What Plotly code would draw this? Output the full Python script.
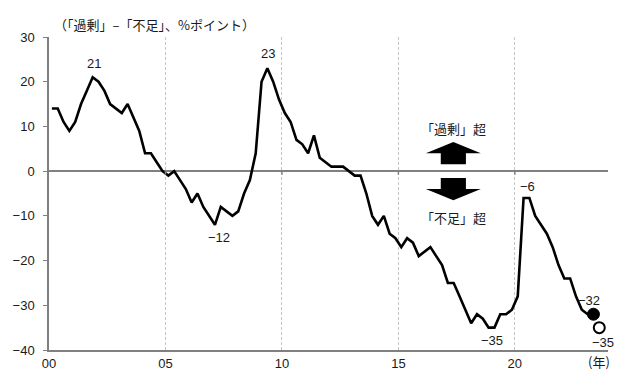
import plotly.graph_objects as go

# ---- data (quarterly, 2000Q1 onward) ----
start_year = 2000
di_values = [14, 14, 11, 9, 11, 15, 18, 21, 20, 18, 15, 14, 13, 15, 12, 9, 4, 4, 2, 0,
             -1, 0, -2, -4, -7, -5, -8, -10, -12, -8, -9, -10, -9, -5, -2, 4, 20, 23, 20, 16,
             13, 11, 7, 6, 4, 8, 3, 2, 1, 1, 1, 0, -1, -1, -5, -10, -12, -10, -14, -15,
             -17, -15, -16, -19, -18, -17, -19, -21, -25, -25, -28, -31, -34, -32, -33, -35, -35, -32, -32, -31,
             -28, -6, -6, -10, -12, -14, -17, -21, -24, -24, -28, -31, -32, -32]
forecast_value = -35
year_ticks = [2000, 2005, 2010, 2015, 2020]
year_labels = ["00", "05", "10", "15", "20"]
y_ticks = [30, 20, 10, 0, -10, -20, -30, -40]
# labelled points: (index, text, xshift, yshift)
label_points = [(7, "21", 1, 14), (37, "23", 1, 15), (28, "−12", 4, -13),
                (75, "−35", 3, -13), (81, "−6", 4, 11), (93, "−32", -4, 14)]

def qx(i):
    return start_year + (i + 0.5) / 4

xs = [qx(i) for i in range(len(di_values))]
last_i = len(di_values) - 1
fc_x = qx(last_i + 1)

NUM_FONT = dict(family="Arial, Liberation Sans", size=13, color="#1a1a1a")
JP_FONT = dict(family="Noto Sans CJK JP", size=13, color="#1a1a1a")
AX = "#808080"

fig = go.Figure()
fig.add_trace(go.Scatter(x=xs, y=di_values, mode="lines",
                         line=dict(color="black", width=2.6), hoverinfo="skip"))
fig.add_trace(go.Scatter(x=[xs[last_i]], y=[di_values[last_i]], mode="markers",
                         marker=dict(size=12, color="black", line=dict(color="black", width=1))))
fig.add_trace(go.Scatter(x=[fc_x], y=[forecast_value], mode="markers",
                         marker=dict(size=11, color="white", line=dict(color="black", width=2))))

annotations = []
for i, t, dx, dy in label_points:
    annotations.append(dict(x=xs[i], y=di_values[i], text=t, showarrow=False,
                            xshift=dx, yshift=dy, font=NUM_FONT))
annotations.append(dict(x=fc_x, y=forecast_value, text="−35", showarrow=False,
                        xshift=4, yshift=-15, font=NUM_FONT))
annotations.append(dict(xref="paper", yref="paper", x=0.005, y=1.0415, xanchor="left",
                        yanchor="middle", text="（「過剰」–「不足」、%ポイント）",
                        showarrow=False, font=JP_FONT))
annotations.append(dict(xref="paper", yref="paper", x=1, y=-0.036, xanchor="right",
                        yanchor="middle", xshift=4, text="(年)", showarrow=False, font=JP_FONT))

arrow_cx = 2017.36
annotations.append(dict(x=arrow_cx, y=9.6, text="「過剰」超", showarrow=False, font=JP_FONT))
annotations.append(dict(x=arrow_cx, y=-10.3, text="「不足」超", showarrow=False, font=JP_FONT))

head_half, shaft_half = 1.18, 0.54
tip, base, shaft_end = 6.5, 4.0, 1.55
shapes = []
for s in (1, -1):
    path = (f"M {arrow_cx - head_half},{s * base} L {arrow_cx},{s * tip} "
            f"L {arrow_cx + head_half},{s * base} L {arrow_cx + shaft_half},{s * base} "
            f"L {arrow_cx + shaft_half},{s * shaft_end} L {arrow_cx - shaft_half},{s * shaft_end} "
            f"L {arrow_cx - shaft_half},{s * base} Z")
    shapes.append(dict(type="path", path=path, xref="x", yref="y",
                       fillcolor="black", line=dict(width=0)))
for yv in year_ticks[1:]:
    shapes.append(dict(type="line", xref="x", yref="y", x0=yv, x1=yv, y0=0, y1=-0.8,
                       line=dict(color=AX, width=1.5)))

fig.update_layout(
    width=618, height=372,
    margin=dict(l=49, r=10, t=37, b=22),
    paper_bgcolor="white", plot_bgcolor="white",
    showlegend=False,
    annotations=annotations, shapes=shapes,
    xaxis=dict(range=[2000, 2024], tickvals=year_ticks, ticktext=year_labels,
               showgrid=True, gridcolor="#c4c4c4", griddash="3px,2px", gridwidth=1,
               showline=True, linecolor=AX, linewidth=1.5, ticks="",
               zeroline=False, tickfont=NUM_FONT, ticklabelstandoff=1,
               automargin=False),
    yaxis=dict(range=[-40, 30], tickvals=y_ticks, showgrid=False,
               showline=True, linecolor=AX, linewidth=1.5,
               ticks="outside", ticklen=4, tickcolor=AX, tickwidth=1,
               zeroline=True, zerolinecolor=AX, zerolinewidth=1.5,
               tickfont=NUM_FONT, ticklabelstandoff=6, automargin=False),
)

fig.write_html("out.html")
